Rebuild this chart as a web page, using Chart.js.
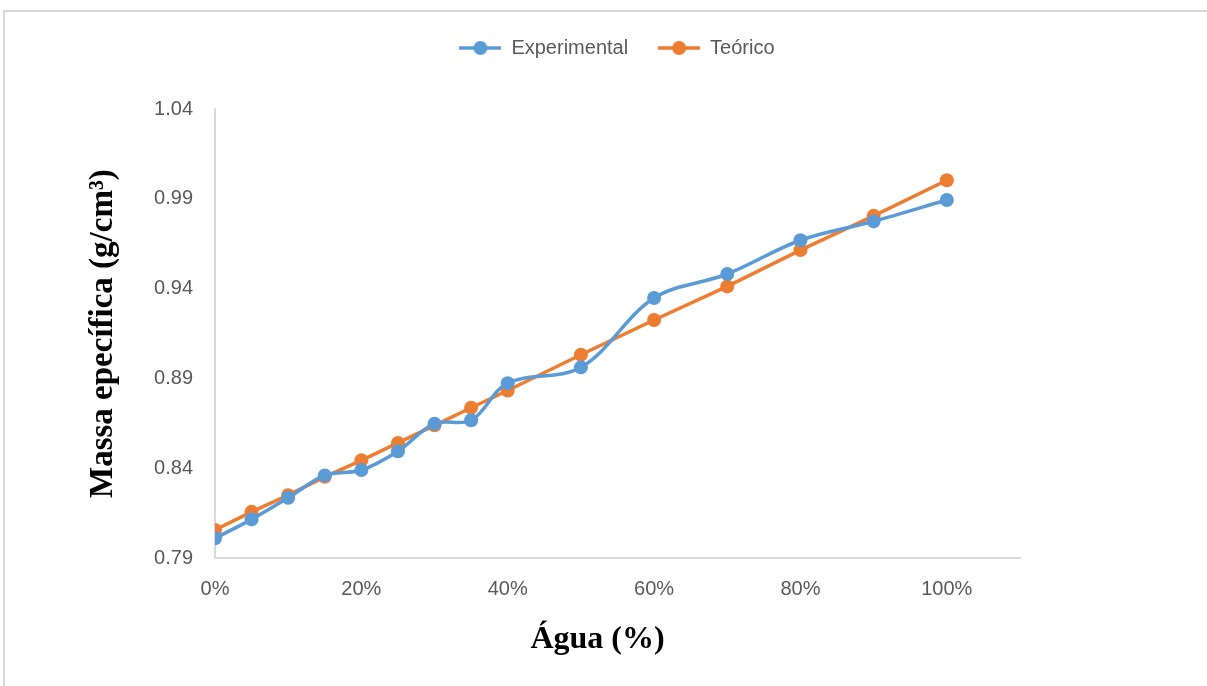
<!DOCTYPE html>
<html>
<head>
<meta charset="utf-8">
<script src="https://cdn.jsdelivr.net/npm/chart.js@4/dist/chart.umd.min.js"></script>
<style>
  body { margin: 0; background: #fff; overflow: hidden; }
  #frame { position: absolute; left: 3px; top: 10px; width: 1210px; height: 690px; border: 2px solid #d9d9d9; }
  #myChart { position: absolute; left: 0; top: 0; }
</style>
</head>
<body>
<div id="frame"></div>
<canvas id="myChart" width="1207" height="686"></canvas>
<script>
'use strict';

// agua (%) on the x axis
let agua = [0, 5, 10, 15, 20, 25, 30, 35, 40, 50, 60, 70, 80, 90, 100];
let experimental = [0.801, 0.8115, 0.8235, 0.836, 0.839, 0.8495, 0.8648, 0.8667, 0.8874, 0.8962, 0.9348, 0.9482, 0.967, 0.9775, 0.9894];
let teorico = [0.8056, 0.8157, 0.825, 0.8352, 0.8444, 0.8541, 0.8639, 0.8737, 0.8833, 0.9032, 0.9226, 0.9413, 0.9615, 0.9806, 1.0004];
let xTicks = [0, 20, 40, 60, 80, 100];
let yTicks = [0.79, 0.84, 0.89, 0.94, 0.99, 1.04];

let blue = '#5b9bd5';
let orange = '#ed7d31';
let grey = '#595959';

function toPoints(values) {
    let pts = [];
    for (let i = 0; i < agua.length; i++) {
        pts.push({ x: agua[i], y: values[i] });
    }
    return pts;
}

// little line + dot picture for the legend, like excel
function legendIcon(color) {
    let c = document.createElement('canvas');
    c.width = 42;
    c.height = 16;
    let g = c.getContext('2d');
    g.strokeStyle = color;
    g.lineWidth = 3.5;
    g.beginPath();
    g.moveTo(0, 8);
    g.lineTo(42, 8);
    g.stroke();
    g.fillStyle = color;
    g.beginPath();
    g.arc(21, 8, 7, 0, Math.PI * 2);
    g.fill();
    return c;
}

let ctx = document.getElementById('myChart').getContext('2d');

let myChart = new Chart(ctx, {
    type: 'line',
    data: {
        datasets: [{
            label: 'Experimental',
            data: toPoints(experimental),
            borderColor: blue,
            backgroundColor: blue,
            borderWidth: 3.5,
            pointRadius: 7,
            pointHoverRadius: 7,
            pointBorderWidth: 0,
            tension: 0.35
        }, {
            label: 'Teórico',
            data: toPoints(teorico),
            borderColor: orange,
            backgroundColor: orange,
            borderWidth: 3.5,
            pointRadius: 7,
            pointHoverRadius: 7,
            pointBorderWidth: 0,
            tension: 0
        }]
    },
    options: {
        responsive: false,
        animation: false,
        layout: {
            padding: { top: 8, right: 0, bottom: 0, left: 27 }
        },
        plugins: {
            tooltip: { enabled: false },
            legend: {
                position: 'top',
                labels: {
                    usePointStyle: true,
                    pointStyleWidth: 42,
                    boxHeight: 16,
                    color: grey,
                    padding: 30,
                    font: { family: 'Liberation Sans', size: 20 },
                    generateLabels: function (chart) {
                        return chart.data.datasets.map(function (ds, i) {
                            return {
                                text: ds.label,
                                pointStyle: legendIcon(ds.borderColor),
                                fontColor: grey,
                                lineWidth: 0,
                                strokeStyle: 'transparent',
                                fillStyle: ds.borderColor,
                                datasetIndex: i
                            };
                        });
                    }
                }
            },
            // empty box just to push the plot down below the legend
            subtitle: {
                display: true,
                text: ' ',
                weight: 500,
                font: { size: 1 },
                padding: { top: 40, bottom: 0 }
            }
        },
        scales: {
            x: {
                type: 'linear',
                min: 0,
                max: 110,
                afterBuildTicks: function (axis) {
                    axis.ticks = xTicks.map(function (v) { return { value: v }; });
                },
                afterFit: function (axis) {
                    axis.height = 686 - 558;
                },
                grid: { display: false, drawTicks: false },
                border: { color: '#d9d9d9', width: 2 },
                ticks: {
                    color: grey,
                    padding: 19,
                    maxRotation: 0,
                    font: { family: 'Liberation Sans', size: 20 },
                    callback: function (v) { return v + '%'; }
                },
                title: {
                    display: true,
                    // trailing spaces nudge the centred title a bit to the left, like the original
                    text: 'Água (%)     ',
                    color: '#000',
                    padding: { top: 0, bottom: 27 },
                    font: { family: 'Liberation Serif', size: 32, weight: 'bold' }
                }
            },
            y: {
                min: 0.79,
                max: 1.04,
                afterBuildTicks: function (axis) {
                    axis.ticks = yTicks.map(function (v) { return { value: v }; });
                },
                afterFit: function (axis) {
                    axis.width = 215 - 27;
                },
                grid: { display: false, drawTicks: false },
                border: { color: '#d9d9d9', width: 2 },
                ticks: {
                    color: grey,
                    padding: 22,
                    font: { family: 'Liberation Sans', size: 20 },
                    callback: function (v) { return v.toFixed(2); }
                },
                title: {
                    display: true,
                    text: 'Massa epecífica (g/cm³)',
                    color: '#000',
                    padding: { top: 57, bottom: 0 },
                    font: { family: 'Liberation Serif', size: 33, weight: 'bold' }
                }
            },
            // empty right axis, only keeps the plot clear of the right side
            yRight: {
                position: 'right',
                min: 0,
                max: 1,
                afterFit: function (axis) {
                    axis.width = 1207 - 1020;
                },
                grid: { display: false, drawTicks: false },
                border: { display: false },
                ticks: { display: false }
            }
        }
    }
});
</script>
</body>
</html>
